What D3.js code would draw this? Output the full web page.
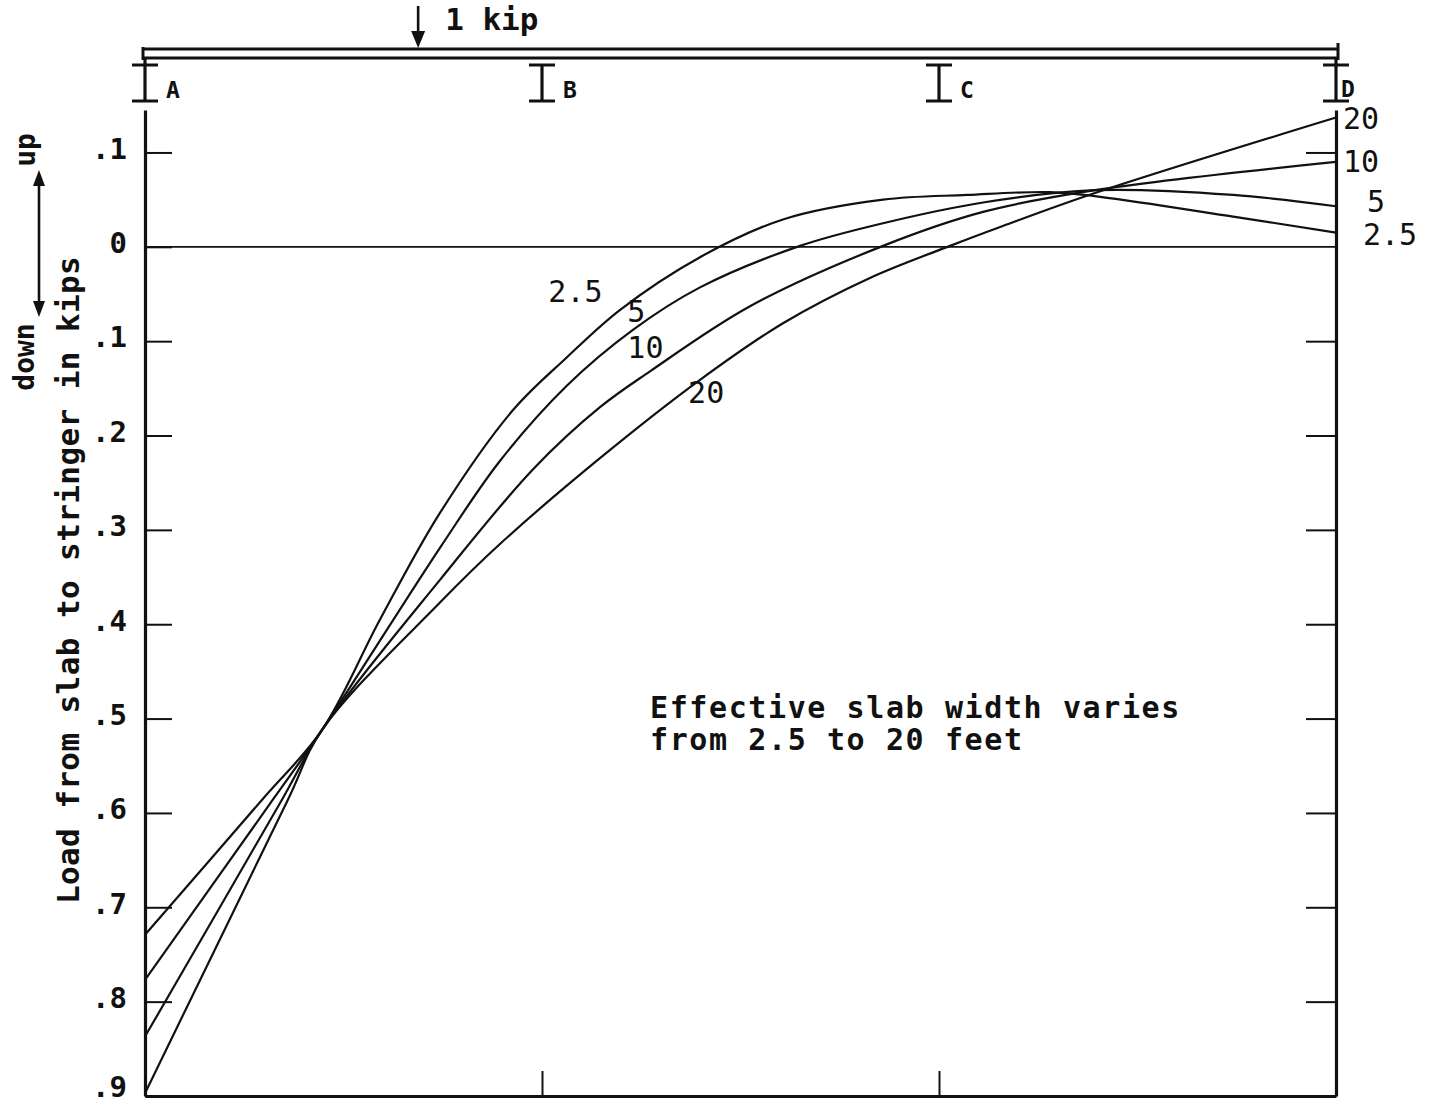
<!DOCTYPE html>
<html>
<head>
<meta charset="utf-8">
<script src="https://cdn.jsdelivr.net/npm/d3@7"></script>
<style>
  html, body { margin: 0; padding: 0; background: #fff; }
  svg { display: block; }
  .mono { font-family: "DejaVu Sans Mono", "Liberation Mono", monospace; }
</style>
</head>
<body>
<div id="chart"></div>
<script>
// supports along the stringer (station in spans, A = 0 ... D = 3)
const supportNames = ["A", "B", "C", "D"];
const supportStations = [0, 1, 2, 3];
const loadStation = 0.688; // where the 1 kip load sits

// y ticks (kips, up is positive)
const loadTicks = [0.1, 0, -0.1, -0.2, -0.3, -0.4, -0.5, -0.6, -0.7, -0.8, -0.9];

// effective slab widths (ft)
const widthLabels = ["2.5", "5", "10", "20"];

// curves: station (spans) and load (kips)
const s25 = [0, 0.295, 0.446, 0.592, 0.743, 0.927, 1.063, 1.196, 1.398, 1.607, 1.859, 2.071, 2.28, 2.406, 2.741, 3];
const v25 = [-0.729, -0.586, -0.512, -0.395, -0.282, -0.173, -0.117, -0.067, -0.011, 0.029, 0.05, 0.055, 0.058, 0.053, 0.032, 0.015];

const s5 = [0, 0.322, 0.446, 0.743, 0.894, 1.063, 1.229, 1.398, 1.65, 1.859, 2.111, 2.393, 2.741, 3];
const v5 = [-0.777, -0.586, -0.512, -0.319, -0.227, -0.147, -0.088, -0.043, 0.001, 0.025, 0.047, 0.06, 0.055, 0.043];

const s10 = [0, 0.345, 0.446, 0.743, 0.977, 1.146, 1.272, 1.524, 1.859, 2.111, 2.393, 3];
const v10 = [-0.837, -0.586, -0.512, -0.353, -0.236, -0.17, -0.132, -0.063, 0.001, 0.037, 0.06, 0.09];

const s20 = [0, 0.36, 0.446, 0.743, 0.894, 1.146, 1.398, 1.607, 1.826, 2.028, 2.154, 2.393, 3];
const v20 = [-0.897, -0.586, -0.512, -0.377, -0.315, -0.224, -0.141, -0.081, -0.033, 0.001, 0.021, 0.057, 0.137];

const width = 1437, height = 1107;
const ink = "#111";

const x = d3.scaleLinear().domain([0, 3]).range([145, 1336]);
const y = d3.scaleLinear().domain([-0.9, 0.145]).range([1096, 110]);

const svg = d3.select("#chart")
  .append("svg")
  .attr("width", width)
  .attr("height", height)
  .style("background", "#fff");

// zero line
svg.append("line")
  .attr("x1", x(0)).attr("x2", x(3))
  .attr("y1", y(0)).attr("y2", y(0))
  .attr("stroke", ink).attr("stroke-width", 1.8);

const fmt = (v) => (v === 0 ? "0" : "." + Math.round(Math.abs(v) * 10));

// left axis, ticks pointing inward
const left = svg.append("g")
  .attr("transform", `translate(${x(0)},0)`)
  .call(d3.axisLeft(y).tickValues(loadTicks).tickFormat(fmt).tickSize(-27).tickSizeOuter(0).tickPadding(18));

// right axis, no labels
const right = svg.append("g")
  .attr("transform", `translate(${x(3)},0)`)
  .call(d3.axisRight(y).tickValues(loadTicks.filter((v) => v !== 0)).tickFormat("").tickSize(-30).tickSizeOuter(0));

// bottom axis, ticks at B and C
const bottom = svg.append("g")
  .attr("transform", `translate(0,${y(-0.9)})`)
  .call(d3.axisBottom(x).tickValues([1, 2]).tickFormat("").tickSize(-25).tickSizeOuter(0));

[left, right, bottom].forEach((g) => {
  g.select(".domain").attr("stroke", ink).attr("stroke-width", 3.2);
  g.selectAll(".tick line").attr("stroke", ink).attr("stroke-width", 2);
});

left.selectAll(".tick text")
  .attr("class", "mono")
  .attr("fill", ink)
  .attr("dy", (d) => (d === -0.9 ? "0.02em" : "0.2em"))
  .attr("font-size", 29)
  .attr("font-weight", "bold");

// curves
const line = d3.line()
  .x((d) => x(d[0]))
  .y((d) => y(d[1]))
  .curve(d3.curveCatmullRom.alpha(0.5));

const series = [
  d3.zip(s25, v25),
  d3.zip(s5, v5),
  d3.zip(s10, v10),
  d3.zip(s20, v20),
];

svg.selectAll(".curve")
  .data(series)
  .enter()
  .append("path")
  .attr("class", "curve")
  .attr("d", line)
  .attr("fill", "none")
  .attr("stroke", ink)
  .attr("stroke-width", 2.2);

// curve labels inside the plot (data coords)
const innerLabelPos = [[1.016, -0.059], [1.215, -0.08], [1.215, -0.118], [1.368, -0.166]];
svg.selectAll(".inner-label")
  .data(widthLabels)
  .enter()
  .append("text")
  .attr("class", "mono")
  .attr("x", (d, i) => x(innerLabelPos[i][0]))
  .attr("y", (d, i) => y(innerLabelPos[i][1]))
  .attr("font-size", 30)
  .attr("fill", ink)
  .text((d) => d);

// curve labels at the right end, offset from each curve's last value
const rightOffsets = [[27, 12], [31, 6], [7, 10], [7, 11]];
const lastValues = [v25, v5, v10, v20].map((v) => v[v.length - 1]);
svg.selectAll(".end-label")
  .data(widthLabels)
  .enter()
  .append("text")
  .attr("class", "mono")
  .attr("x", (d, i) => x(3) + rightOffsets[i][0])
  .attr("y", (d, i) => y(lastValues[i]) + rightOffsets[i][1])
  .attr("font-size", 30)
  .attr("fill", ink)
  .text((d) => d);

// the stringer drawn above the plot
const beamTop = 49, beamBot = 58;
[beamTop, beamBot].forEach((by) => {
  svg.append("line")
    .attr("x1", x(0) - 2).attr("x2", x(3) + 3)
    .attr("y1", by).attr("y2", by)
    .attr("stroke", ink).attr("stroke-width", 3);
});
svg.append("line")
  .attr("x1", x(0) - 2).attr("x2", x(0) - 2)
  .attr("y1", beamTop - 2).attr("y2", beamBot + 2)
  .attr("stroke", ink).attr("stroke-width", 3);
svg.append("line")
  .attr("x1", x(3) + 2).attr("x2", x(3) + 2)
  .attr("y1", beamTop - 6).attr("y2", beamBot + 2)
  .attr("stroke", ink).attr("stroke-width", 3);

// supports (I shapes) with letters
const sup = svg.selectAll(".support")
  .data(supportStations)
  .enter()
  .append("g")
  .attr("class", "support")
  .attr("transform", (d) => `translate(${x(d)},0)`);

sup.append("line")
  .attr("x1", 0).attr("x2", 0)
  .attr("y1", (d, i) => (i === 0 || i === 3 ? beamBot : 65))
  .attr("y2", 101)
  .attr("stroke", ink).attr("stroke-width", 3.2);
[65, 101].forEach((fy) => {
  sup.append("line")
    .attr("x1", -13).attr("x2", 13)
    .attr("y1", fy).attr("y2", fy)
    .attr("stroke", ink).attr("stroke-width", 3);
});
sup.append("text")
  .attr("class", "mono")
  .attr("x", (d, i) => (i === 3 ? 5 : 21))
  .attr("y", (d, i) => (i === 3 ? 97 : 98))
  .attr("font-size", 23)
  .attr("font-weight", "bold")
  .attr("fill", ink)
  .text((d, i) => supportNames[i]);

// 1 kip load arrow
const lx = x(loadStation);
svg.append("line")
  .attr("x1", lx).attr("x2", lx)
  .attr("y1", 6).attr("y2", 34)
  .attr("stroke", ink).attr("stroke-width", 2.6);
svg.append("path")
  .attr("d", `M${lx - 7},31 L${lx + 7},31 L${lx},${beamTop - 1} Z`)
  .attr("fill", ink);
svg.append("text")
  .attr("class", "mono")
  .attr("x", lx + 27)
  .attr("y", 30)
  .attr("font-size", 31)
  .attr("font-weight", "bold")
  .attr("fill", ink)
  .text("1 kip");

// y axis title
svg.append("text")
  .attr("class", "mono")
  .attr("transform", "translate(79,580) rotate(-90)")
  .attr("text-anchor", "middle")
  .attr("font-size", 31)
  .attr("font-weight", "bold")
  .attr("letter-spacing", 0.4)
  .attr("fill", ink)
  .text("Load from slab to stringer in kips");

// up / down indicator
svg.append("line")
  .attr("x1", 39).attr("x2", 39)
  .attr("y1", 178).attr("y2", 309)
  .attr("stroke", ink).attr("stroke-width", 2.6);
svg.append("path")
  .attr("d", "M33,186 L45,186 L39,170 Z M33,301 L45,301 L39,317 Z")
  .attr("fill", ink);
svg.append("text")
  .attr("class", "mono")
  .attr("transform", "translate(35,150) rotate(-90)")
  .attr("text-anchor", "middle")
  .attr("font-size", 28)
  .attr("font-weight", "bold")
  .attr("fill", ink)
  .text("up");
svg.append("text")
  .attr("class", "mono")
  .attr("transform", "translate(34,357) rotate(-90)")
  .attr("text-anchor", "middle")
  .attr("font-size", 28)
  .attr("font-weight", "bold")
  .attr("fill", ink)
  .text("down");

// note
const note = svg.append("text")
  .attr("class", "mono")
  .attr("x", 650)
  .attr("y", 718)
  .attr("font-size", 30)
  .attr("font-weight", "bold")
  .attr("letter-spacing", 1.6)
  .attr("fill", ink);
note.append("tspan").attr("x", 650).text("Effective slab width varies");
note.append("tspan").attr("x", 650).attr("dy", 32).text("from 2.5 to 20 feet");
</script>
</body>
</html>
